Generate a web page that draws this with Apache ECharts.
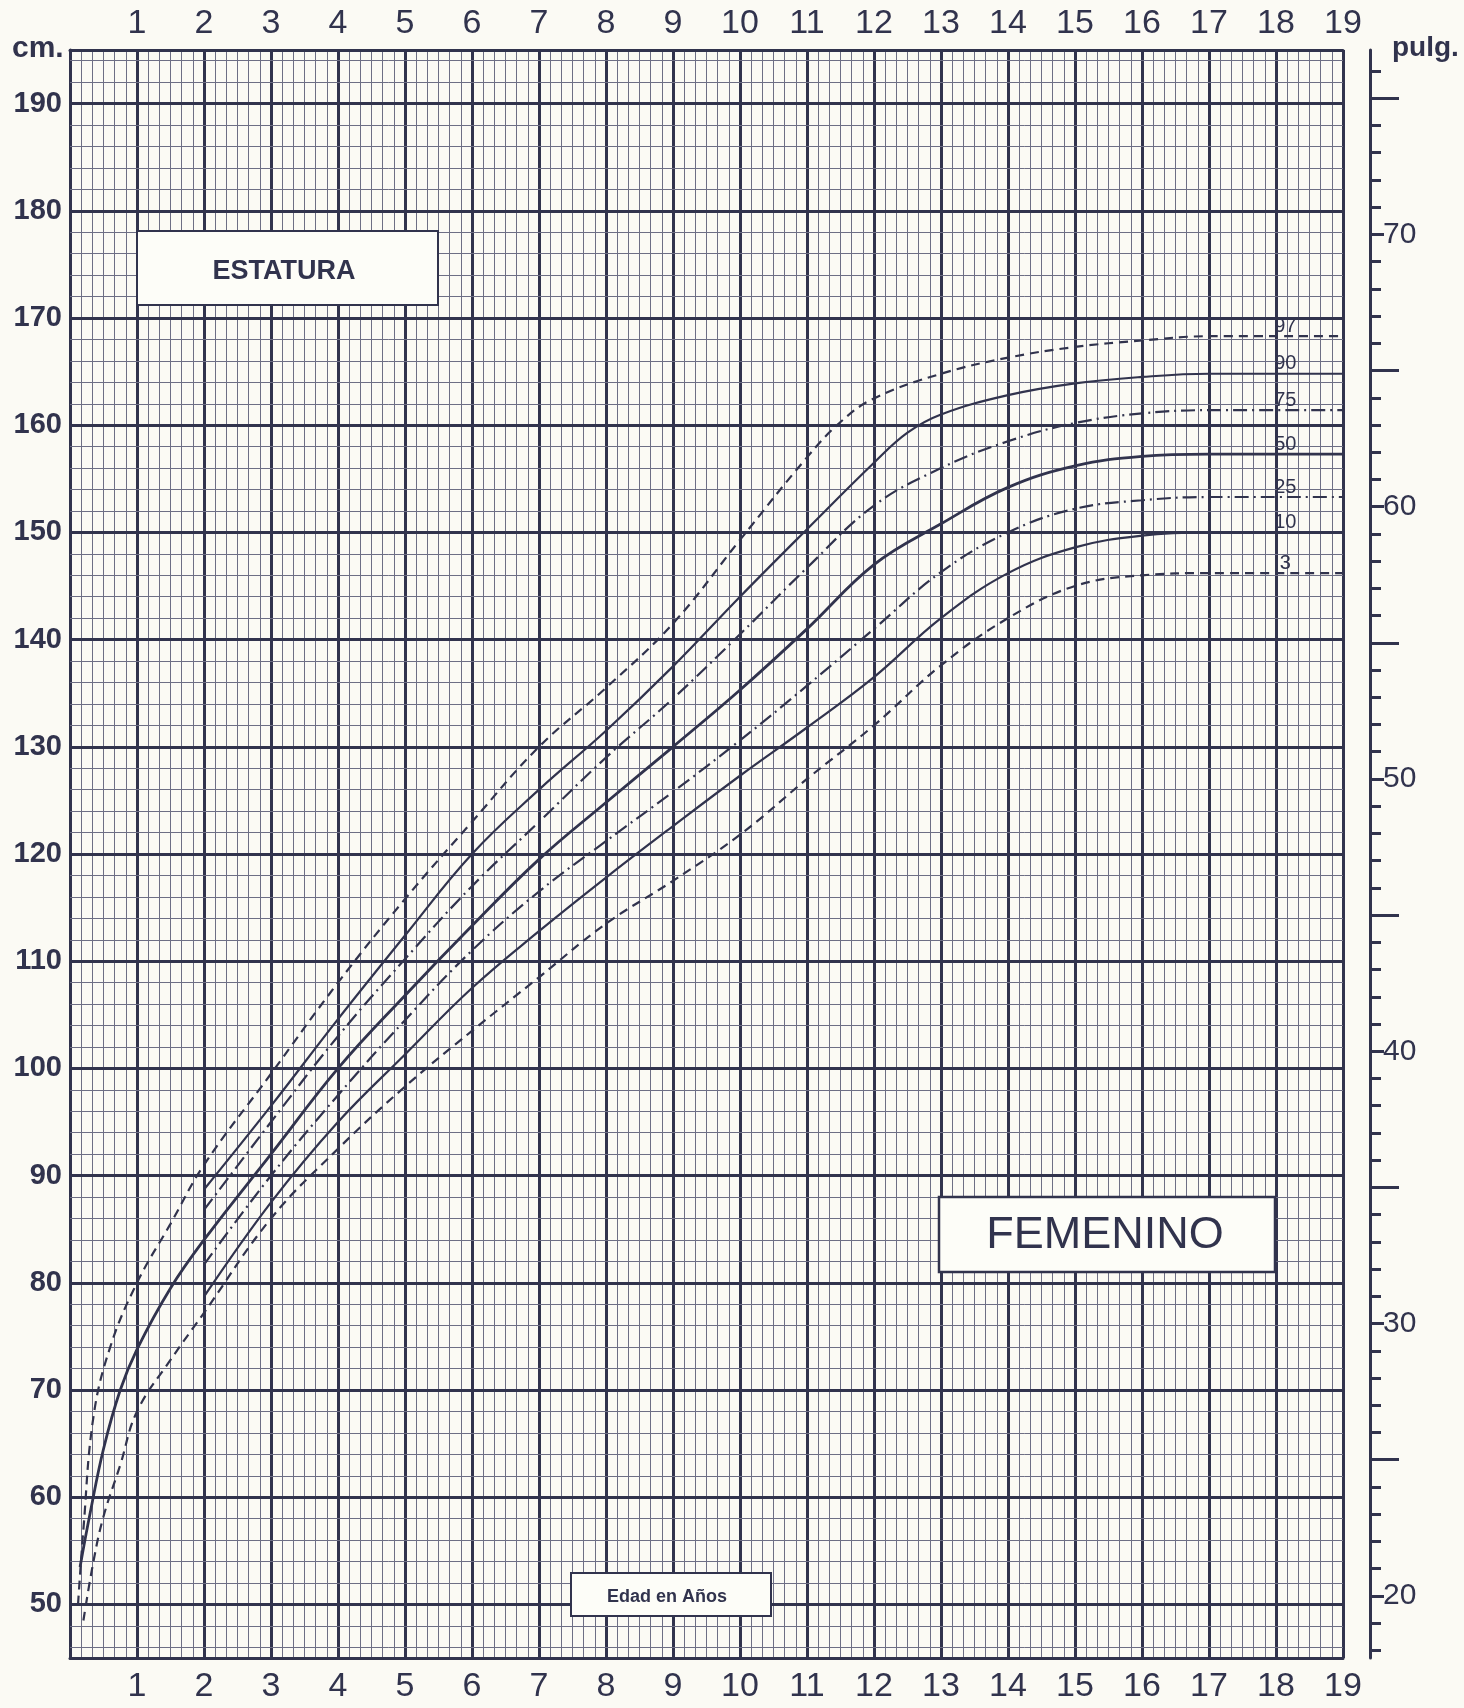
<!DOCTYPE html>
<html>
<head>
<meta charset="utf-8">
<script src="https://cdn.jsdelivr.net/npm/echarts@6/dist/echarts.min.js"></script>
<style>
  html, body { margin: 0; padding: 0; background: #fbfaf4; }
  #chart { width: 1464px; height: 1708px; }
</style>
</head>
<body>
<div id="chart"></div>
<script>
// estatura femenina: edades (años) y valores (cm) por percentil
var age97 = [0.12, 0.2, 0.35, 0.6, 1, 1.5, 2, 3, 4, 5, 6, 7, 8, 9, 10, 11, 11.5, 12, 13, 14, 15, 16, 17, 19];
var cm97  = [50, 57, 67.5, 74, 80, 85.5, 91, 99.5, 108, 115.8, 123, 130, 135.5, 141.5, 149.3, 157, 160.3, 162.5, 164.8, 166.3, 167.3, 167.9, 168.3, 168.3];

var age90 = [2, 3, 4, 5, 6, 7, 8, 9, 10, 11, 12, 12.5, 13, 14, 15, 16, 17, 19];
var cm90  = [88.7, 96.5, 104.6, 112.4, 120, 126, 131.5, 137.5, 144, 150.3, 156.5, 159.3, 161, 162.8, 163.9, 164.5, 164.8, 164.8];

var age75 = [2, 3, 4, 5, 6, 7, 8, 9, 10, 11, 12, 13, 14, 15, 16, 17, 19];
var cm75  = [86.8, 95, 103, 110.2, 117, 123, 129, 134.5, 140.5, 146.7, 152.5, 156, 158.5, 160.2, 161.1, 161.4, 161.4];

var age50 = [0.15, 0.3, 0.5, 0.75, 1, 1.5, 2, 3, 4, 5, 6, 7, 8, 9, 10, 11, 12, 13, 14, 15, 16, 17, 19];
var cm50  = [53.5, 58.5, 64.5, 70, 73.8, 79.5, 84, 92, 100, 106.8, 113.3, 119.5, 124.8, 130, 135.3, 141, 147, 150.8, 154.2, 156.2, 157.1, 157.3, 157.3];

var age25 = [2, 3, 4, 5, 6, 7, 8, 9, 10, 11, 12, 13, 14, 15, 16, 17, 19];
var cm25  = [81.7, 90, 97.5, 104.5, 111, 116.5, 121.2, 125.8, 130.6, 135.7, 141, 146.3, 150, 152.2, 153, 153.3, 153.3];

var age10 = [2, 3, 4, 5, 6, 7, 8, 9, 10, 11, 12, 13, 14, 15, 16, 17, 19];
var cm10  = [78.7, 87.5, 95, 101.3, 107.5, 112.8, 117.8, 122.6, 127.3, 131.8, 136.5, 142, 146.2, 148.6, 149.7, 150, 150];

var age3 = [0.2, 0.35, 0.5, 0.75, 1, 1.5, 2, 3, 4, 5, 6, 7, 8, 9, 10, 11, 12, 13, 14, 15, 16, 17, 19];
var cm3  = [48.5, 54, 58.2, 63, 68, 72.8, 77.2, 86, 92.5, 98.3, 103.5, 108.5, 113.5, 117.5, 121.8, 127, 132, 137.6, 142, 145, 146, 146.2, 146.2];

var cmLabels = [50, 60, 70, 80, 90, 100, 110, 120, 130, 140, 150, 160, 170, 180, 190];
var inchLabels = [20, 30, 40, 50, 60, 70];
var inchFives = [25, 35, 45, 55, 65, 75];

var ink = '#31334d';
var minorInk = '#6d6e84';

// lineas finas cada 2 cm, marcas cada pulgada
var cmMinor = [];
for (var v = 46; v <= 194; v += 2) { if (v % 10 !== 0) cmMinor.push(v); }
var inchTicks = [];
for (var i = 18; i <= 76; i++) inchTicks.push(i);

function zip(a, b) { return a.map(function (x, k) { return [x, b[k]]; }); }

var chart = echarts.init(document.getElementById('chart'));

function curve(name, ages, cms, type, width) {
  return {
    name: name,
    type: 'line',
    data: zip(ages, cms),
    smooth: 0.4,
    showSymbol: false,
    symbol: 'none',
    z: 10,
    lineStyle: { color: ink, width: width, type: type },
    markPoint: {
      symbol: 'circle',
      symbolSize: 1,
      itemStyle: { color: 'rgba(0,0,0,0)' },
      label: {
        show: true, position: 'inside', offset: [6, -10],
        formatter: name, color: ink, fontSize: 20,
        fontFamily: 'Liberation Sans'
      },
      data: [{ coord: [18.05, cms[cms.length - 1]] }]
    }
  };
}

var inchMin = 45 / 2.54, inchMax = 195 / 2.54;

function inchAxis(ticks, len, line, labels) {
  return {
    type: 'value', position: 'right', offset: 27, min: inchMin, max: inchMax,
    axisLine: { show: line, onZero: false, lineStyle: { color: ink, width: 3 } },
    axisTick: { show: true, length: len, customValues: ticks, lineStyle: { color: ink, width: 3 } },
    axisLabel: labels ? {
      customValues: labels, margin: 13, fontSize: 30, color: ink,
      fontFamily: 'Liberation Sans'
    } : { show: false },
    splitLine: { show: false }
  };
}

var option = {
  backgroundColor: '#fbfaf4',
  animation: false,
  grid: { left: 70, right: 121, top: 50, bottom: 50 },
  xAxis: [
    {
      type: 'value', position: 'bottom', min: 0, max: 19, interval: 1,
      axisLine: { show: true, onZero: false, lineStyle: { color: ink, width: 3 } },
      axisTick: { show: false },
      axisLabel: {
        margin: 12, fontSize: 34, color: ink, fontFamily: 'Liberation Sans',
        formatter: function (v) { return v === 0 ? '' : v; }
      },
      splitLine: { show: true, lineStyle: { color: ink, width: 3 } },
      minorTick: { show: false, splitNumber: 6 },
      minorSplitLine: { show: true, lineStyle: { color: minorInk, width: 1 } }
    },
    {
      type: 'value', position: 'top', min: 0, max: 19, interval: 1,
      axisLine: { show: true, onZero: false, lineStyle: { color: ink, width: 3 } },
      axisTick: { show: false },
      axisLabel: {
        margin: 9, fontSize: 34, color: ink, fontFamily: 'Liberation Sans',
        formatter: function (v) { return v === 0 ? '' : v; }
      },
      splitLine: { show: false }
    }
  ],
  yAxis: [
    {
      type: 'value', position: 'left', min: 45, max: 195,
      axisLine: { show: true, onZero: false, lineStyle: { color: ink, width: 3 } },
      axisTick: { show: true, inside: true, length: 9, customValues: cmLabels, lineStyle: { color: ink, width: 3 } },
      axisLabel: {
        customValues: cmLabels, margin: 8, fontSize: 29, fontWeight: 'bold',
        color: ink, fontFamily: 'Liberation Sans'
      },
      splitLine: { show: false }
    },
    inchAxis(inchTicks, 11, true, null),
    inchAxis(inchFives, 29, false, null),
    inchAxis(inchLabels, 14, false, inchLabels)
  ],
  series: [
    {
      type: 'line', data: [], z: 2,
      markLine: {
        silent: true, symbol: ['none', 'none'], label: { show: false },
        lineStyle: { color: minorInk, width: 1, type: 'solid' },
        data: cmMinor.map(function (c) { return { yAxis: c }; })
      }
    },
    {
      type: 'line', data: [], z: 3,
      markLine: {
        silent: true, symbol: ['none', 'none'], label: { show: false },
        lineStyle: { color: ink, width: 3, type: 'solid' },
        data: cmLabels.map(function (c) { return { yAxis: c }; })
      }
    },
    curve('97', age97, cm97, [9, 6], 2.2),
    curve('90', age90, cm90, 'solid', 2.2),
    curve('75', age75, cm75, [14, 5, 2, 5], 2.2),
    curve('50', age50, cm50, 'solid', 2.8),
    curve('25', age25, cm25, [14, 5, 2, 5], 2.2),
    curve('10', age10, cm10, 'solid', 2.2),
    curve('3', age3, cm3, [9, 6], 2.2)
  ],
  graphic: [
    { type: 'text', left: 12, top: 34, z: 100,
      style: { text: 'cm.', font: 'bold 30px "Liberation Sans"', fill: ink } },
    { type: 'text', left: 1392, top: 34, z: 100,
      style: { text: 'pulg.', font: 'bold 28px "Liberation Sans"', fill: ink } },
    { type: 'rect', z: 100, shape: { x: 137, y: 231, width: 301, height: 74 },
      style: { fill: '#fdfdf8', stroke: ink, lineWidth: 2 } },
    { type: 'text', z: 101, x: 284, y: 272,
      style: { text: 'ESTATURA', font: 'bold 27px "Liberation Sans"', fill: ink, align: 'center', verticalAlign: 'middle' } },
    { type: 'rect', z: 100, shape: { x: 939, y: 1197, width: 336, height: 75 },
      style: { fill: '#fdfdf8', stroke: ink, lineWidth: 2.5 } },
    { type: 'text', z: 101, x: 1105, y: 1236,
      style: { text: 'FEMENINO', font: '45px "Liberation Sans"', fill: ink, align: 'center', verticalAlign: 'middle' } },
    { type: 'rect', z: 100, shape: { x: 571, y: 1573, width: 200, height: 43 },
      style: { fill: '#fdfdf8', stroke: ink, lineWidth: 2 } },
    { type: 'text', z: 101, x: 667, y: 1597,
      style: { text: 'Edad en Años', font: 'bold 18px "Liberation Sans"', fill: ink, align: 'center', verticalAlign: 'middle' } }
  ]
};

chart.setOption(option);
</script>
</body>
</html>
